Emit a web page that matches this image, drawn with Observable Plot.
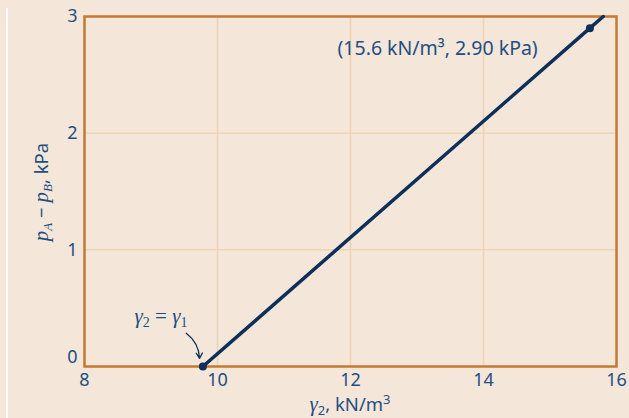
<!DOCTYPE html>
<html>
<head>
<meta charset="utf-8">
<script src="https://cdn.jsdelivr.net/npm/d3@7"></script>
<script src="https://cdn.jsdelivr.net/npm/@observablehq/plot@0.6"></script>
<style>
  html, body { margin: 0; padding: 0; background: #f5e6da; }
  #wrap { position: relative; width: 629px; height: 418px; overflow: hidden; }
  #bar { position: absolute; left: 6px; top: 8px; width: 2px; height: 410px; background: #ffffff; }
</style>
</head>
<body>
<div id="wrap"><div id="bar"></div></div>
<script>
// Data
const xTicks = [8, 10, 12, 14, 16];
const yTicks = [0, 1, 2, 3];
const gamma2 = [9.78, 15.6, 15.8];    // kN/m^3
const dp = [0.0, 2.90, 3.0];          // kPa
const markedGamma = [9.78, 15.6];
const markedDp = [0.0, 2.90];
const pointLabel = "(15.6 kN/m³, 2.90 kPa)";

const lineData = gamma2.map((g, i) => ({g, p: dp[i]}));
const dotData = markedGamma.map((g, i) => ({g, p: markedDp[i]}));

const textColor = "#1f4f82";
const lineColor = "#0d2f58";
const frameColor = "#c47a30";
const gridColor = "#eed3b5";
const font = "Noto Sans, sans-serif";

const W = 629, H = 418;
const mL = 84, mR = 13, mT = 16, mB = 52;

const chart = Plot.plot({
  width: W, height: H,
  marginLeft: mL, marginRight: mR, marginTop: mT, marginBottom: mB,
  style: {background: "transparent", fontFamily: font},
  x: {domain: [8, 16], axis: null},
  y: {domain: [0, 3], axis: null},
  marks: [
    Plot.ruleX(xTicks.slice(1, -1), {stroke: gridColor, strokeWidth: 1.5}),
    Plot.ruleY(yTicks.slice(1, -1), {stroke: gridColor, strokeWidth: 1.5}),
    Plot.frame({stroke: frameColor, strokeWidth: 2.5}),
    Plot.line(lineData, {x: "g", y: "p", stroke: lineColor, strokeWidth: 3.5}),
    Plot.dot(dotData, {x: "g", y: "p", r: 4, fill: lineColor}),
    Plot.arrow([{x1: 9.53, y1: 0.285, x2: 9.73, y2: 0.07}], {
      x1: "x1", y1: "y1", x2: "x2", y2: "y2", bend: 25, stroke: lineColor,
      strokeWidth: 1.3, headLength: 7
    }),
    Plot.text(xTicks, {x: d => d, y: 0, dy: 14, fill: textColor, fontSize: 18, textAnchor: "middle"}),
    Plot.text(yTicks.filter(d => d !== 0), {x: 8, y: d => d, dx: -7, fill: textColor, fontSize: 18, textAnchor: "end"}),
    Plot.text(yTicks.filter(d => d === 0), {x: 8, y: d => d, dx: -7, dy: -9, fill: textColor, fontSize: 18, textAnchor: "end"}),
    Plot.text([pointLabel], {x: 13.31, y: 2.72, fill: textColor, fontSize: 19.5, textAnchor: "middle"})
  ]
});
document.getElementById("wrap").appendChild(chart);

const svg = d3.select(chart);
const serif = "Liberation Serif, serif";
// x axis title
const xt = svg.append("text")
  .attr("x", 350).attr("y", 411)
  .attr("text-anchor", "middle").attr("fill", textColor)
  .attr("font-size", 18.5).attr("font-family", font);
xt.append("tspan").attr("font-family", serif).attr("font-style", "italic").attr("font-size", 21).text("γ");
xt.append("tspan").attr("font-size", 13).attr("dy", 4).text("2");
xt.append("tspan").attr("dy", -4).text(", kN/m");
xt.append("tspan").attr("font-size", 13).attr("dy", -7).text("3");

// y axis title
const yt = svg.append("text")
  .attr("transform", `translate(48,192) rotate(-90)`)
  .attr("text-anchor", "middle").attr("fill", textColor)
  .attr("font-size", 18.5).attr("font-family", font);
yt.append("tspan").attr("font-family", serif).attr("font-style", "italic").attr("font-size", 21).text("p");
yt.append("tspan").attr("font-family", serif).attr("font-style", "italic").attr("font-size", 13).attr("dy", 4).text("A");
yt.append("tspan").attr("dy", -4).text(" − ");
yt.append("tspan").attr("font-family", serif).attr("font-style", "italic").attr("font-size", 21).text("p");
yt.append("tspan").attr("font-family", serif).attr("font-style", "italic").attr("font-size", 13).attr("dy", 4).text("B");
yt.append("tspan").attr("dy", -4).text(", kPa");

// gamma equality annotation
const ga = svg.append("text")
  .attr("x", 161).attr("y", 323)
  .attr("text-anchor", "middle").attr("fill", textColor)
  .attr("font-size", 21).attr("font-family", serif);
ga.append("tspan").attr("font-style", "italic").text("γ");
ga.append("tspan").attr("font-size", 14).attr("dy", 4).text("2");
ga.append("tspan").attr("dy", -4).text(" = ");
ga.append("tspan").attr("font-style", "italic").text("γ");
ga.append("tspan").attr("font-size", 14).attr("dy", 4).text("1");
</script>
</body>
</html>
